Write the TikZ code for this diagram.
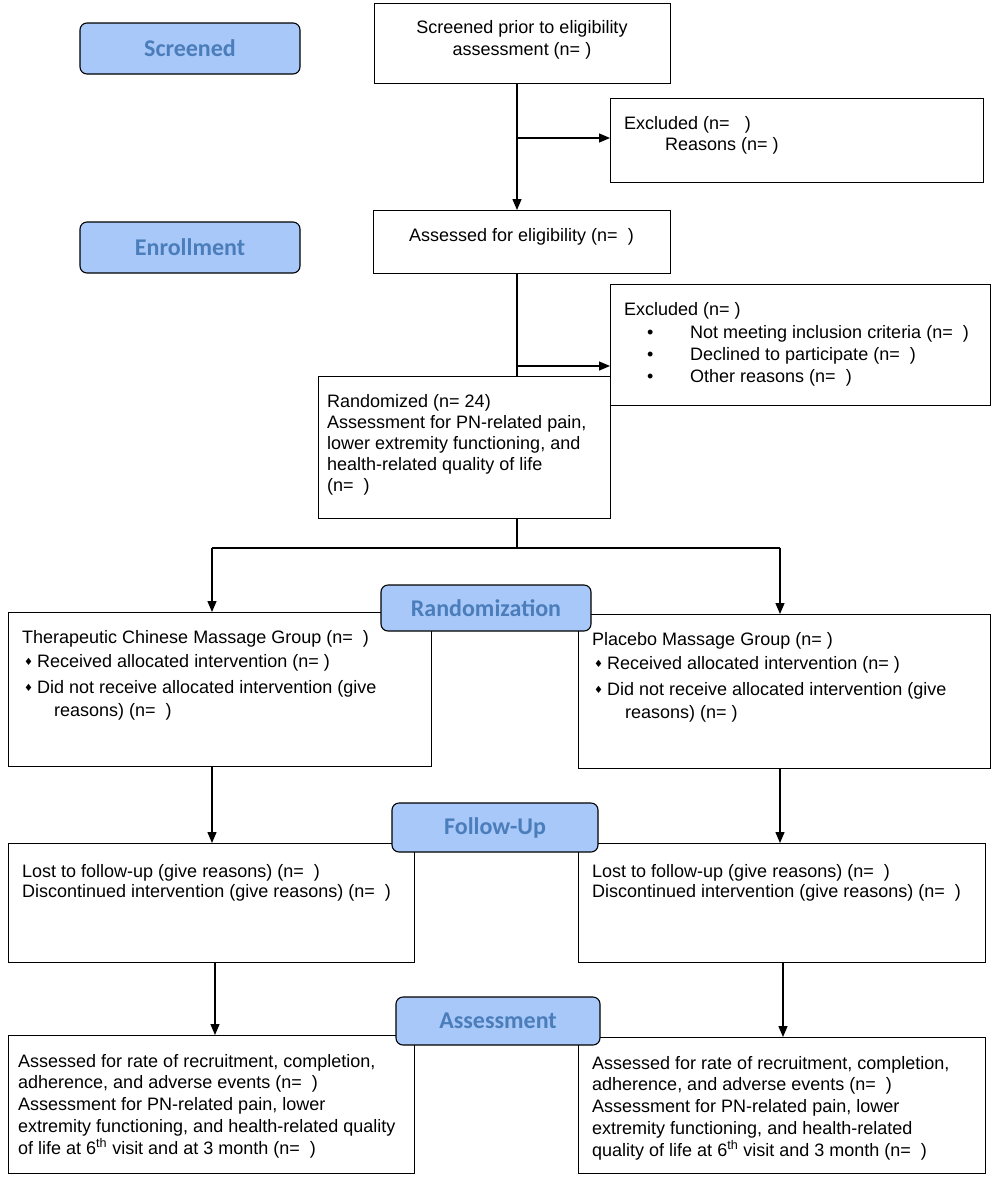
\documentclass[tikz,border=0pt]{standalone}
\usepackage{fontspec}
\setmainfont{Liberation Sans}
\newfontfamily\lblfont{Carlito}
\newfontfamily\symfont{DejaVu Sans}
\usetikzlibrary{arrows.meta}
\definecolor{lblfill}{HTML}{A8C8F9}
\definecolor{lbltext}{HTML}{4A7DBA}
\tikzset{
  box/.style={draw, line width=1.3pt, fill=white, anchor=north west, inner sep=0pt},
  lbl/.style={draw, line width=1.1pt, fill=lblfill, rounded corners=7pt, inner sep=0pt,
    text=lbltext, font=\lblfont\bfseries\fontsize{24}{28}\selectfont},
  txt/.style={inner sep=0pt, anchor=base west, font=\fontsize{18}{20}\selectfont},
  ctxt/.style={txt, anchor=base},
  dmd/.style={inner sep=0pt, anchor=base west, font=\symfont\fontsize{10}{10}\selectfont},
  arr/.style={line width=1.3pt, -{Triangle[length=11pt,width=9pt]}},
  ln/.style={line width=1.3pt},
}
\newcommand\putlines[5]{%
  \foreach \lineTxt [count=\i] in {#5}{\node[txt] (#1\i) at (#2,{#3+(\i-1)*#4}) {\lineTxt};}}
\begin{document}
\begin{tikzpicture}[x=1pt,y=-1pt]
\useasboundingbox (0,0) rectangle (993,1179);
\fill[white] (0,0) rectangle (993,1179);

% coordinates for connectors
\coordinate (j1) at (517,138);
\coordinate (j2) at (517,366);
\coordinate (j3) at (517,548);
\coordinate (cl) at (212,548);
\coordinate (cr) at (780,548);
\coordinate (dl) at (215,900);
\coordinate (dr) at (783,900);

% boxes
\node[box, minimum width=296pt, minimum height=80pt] (scr) at (374,3) {};
\node[box, minimum width=373pt, minimum height=84pt] (exc1) at (610,98) {};
\node[box, minimum width=297pt, minimum height=63pt] (ass) at (373,210) {};
\node[box, minimum width=292pt, minimum height=142pt] (rnd) at (318,376) {};
\node[box, minimum width=380pt, minimum height=121pt] (exc2) at (610,284) {};
\node[box, minimum width=423pt, minimum height=154pt] (grpL) at (8,612) {};
\node[box, minimum width=412pt, minimum height=154pt] (grpR) at (578,614) {};
\node[box, minimum width=406pt, minimum height=119pt] (fuL) at (8,843) {};
\node[box, minimum width=407pt, minimum height=119pt] (fuR) at (578,843) {};
\node[box, minimum width=406pt, minimum height=138pt] (asL) at (8,1035) {};
\node[box, minimum width=407pt, minimum height=136pt] (asR) at (578,1037) {};

% connectors
\draw[arr] (scr.south -| j1) -- (ass.north -| j1);
\draw[arr] (j1) -- (exc1.west |- j1);
\draw[ln] (ass.south -| j2) -- (rnd.north -| j2);
\draw[arr] (j2) -- (exc2.west |- j2);
\draw[ln] (rnd.south -| j3) -- (j3);
\draw[ln] (cl) -- (cr);
\draw[arr] (cl) -- (grpL.north -| cl);
\draw[arr] (cr) -- (grpR.north -| cr);
\draw[arr] (grpL.south -| cl) -- (fuL.north -| cl);
\draw[arr] (grpR.south -| cr) -- (fuR.north -| cr);
\draw[arr] (fuL.south -| dl) -- (asL.north -| dl);
\draw[arr] (fuR.south -| dr) -- (asR.north -| dr);

% texts
\node[ctxt] (scrA) at (522,33) {Screened prior to eligibility};
\node[ctxt] (scrB) at (522,55) {assessment (n= )};
\node[txt] (exc1A) at (624,129) {Excluded (n=\ \ \ )};
\node[txt] (exc1B) at (665,150) {Reasons (n= )};
\node[txt] (assA) at (409,241) {Assessed for eligibility (n=\ \ )};
\node[txt] (exc2A) at (624,315) {Excluded (n= )};
\foreach \yy/\tt [count=\k] in {338/{Not meeting inclusion criteria (n=\ \ )},360/{Declined to participate (n=\ \ )},382/{Other reasons (n=\ \ )}}{
  \node[txt] (exb\k) at (647,\yy) {•};
  \node[txt] (ext\k) at (690,\yy) {\tt};
}
\putlines{rt}{327}{407}{21}{{Randomized (n= 24)},{Assessment for PN-related pain,},{lower extremity functioning, and},{health-related quality of life},{(n=\ \ )}}

\node[txt] (gL1) at (22,643) {Therapeutic Chinese Massage Group (n=\ \ )};
\node[dmd] (gLd1) at (24,665) {♦};
\node[txt] (gL2) at (37,667) {Received allocated intervention (n= )};
\node[dmd] (gLd2) at (24,691) {♦};
\node[txt] (gL3) at (37,693) {Did not receive allocated intervention (give};
\node[txt] (gL4) at (54,716) {reasons) (n=\ \ )};

\node[txt] (gR1) at (592,645) {Placebo Massage Group (n= )};
\node[dmd] (gRd1) at (594,667) {♦};
\node[txt] (gR2) at (607,669) {Received allocated intervention (n= )};
\node[dmd] (gRd2) at (594,693) {♦};
\node[txt] (gR3) at (607,695) {Did not receive allocated intervention (give};
\node[txt] (gR4) at (625,718) {reasons) (n= )};

\putlines{fL}{22}{877}{20}{{Lost to follow-up (give reasons) (n=\ \ )},{Discontinued intervention (give reasons) (n=\ \ )}}
\putlines{fR}{592}{877}{20}{{Lost to follow-up (give reasons) (n=\ \ )},{Discontinued intervention (give reasons) (n=\ \ )}}

\putlines{aL}{18}{1067}{21.8}{{Assessed for rate of recruitment, completion,},{adherence, and adverse events (n=\ \ )},{Assessment for PN-related pain, lower},{extremity functioning, and health-related quality},{of life at 6\textsuperscript{th} visit and at 3 month (n=\ \ )}}
\putlines{aR}{592}{1069}{21.8}{{Assessed for rate of recruitment, completion,},{adherence, and adverse events (n=\ \ )},{Assessment for PN-related pain, lower},{extremity functioning, and health-related},{quality of life at 6\textsuperscript{th} visit and 3 month (n=\ \ )}}

% stage labels
\node[lbl, minimum width=220pt, minimum height=51pt] (Lscr) at (190,48.5) {Screened};
\node[lbl, minimum width=220pt, minimum height=51pt] (Lenr) at (190,247.5) {Enrollment};
\node[lbl, minimum width=210pt, minimum height=46pt] (Lrnd) at (486,608) {Randomization};
\node[lbl, minimum width=206pt, minimum height=49pt] (Lfu) at (495,827.5) {Follow-Up};
\node[lbl, minimum width=204pt, minimum height=48pt] (Las) at (498,1021) {Assessment};
\end{tikzpicture}
\end{document}
